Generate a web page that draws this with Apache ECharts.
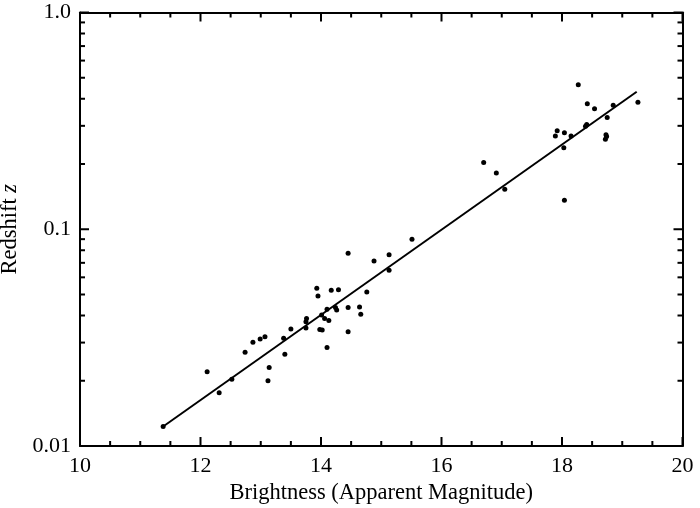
<!DOCTYPE html>
<html>
<head>
<meta charset="utf-8">
<script src="https://cdn.jsdelivr.net/npm/echarts@6/dist/echarts.min.js"></script>
<style>html,body{margin:0;padding:0;background:#fff}#c{width:700px;height:508px}</style>
</head>
<body>
<div id="c"></div>
<script>
// Apparent magnitude of each galaxy
var magnitudes = [11.38,12.11,12.31,12.52,12.74,12.87,12.99,13.07,13.12,13.14,13.38,13.40,13.50,13.76,13.75,13.75,
  13.93,13.95,13.98,14.02,14.01,14.06,14.10,14.13,14.10,14.17,14.29,14.24,14.26,14.45,14.45,14.45,
  14.64,14.66,14.76,14.88,15.13,15.13,15.51,16.70,16.91,17.05,17.89,17.92,18.04,18.03,18.04,18.15,
  18.27,18.42,18.39,18.41,18.54,18.75,18.73,18.74,18.72,18.85,19.26];
// Redshift z of each galaxy
var redshifts = [0.0123,0.0220,0.0176,0.0203,0.0271,0.0301,0.0312,0.0319,0.0200,0.0230,0.0314,0.0265,0.0347,0.0387,0.0374,0.0350,
  0.0534,0.0492,0.0345,0.0343,0.0402,0.0387,0.0427,0.0379,0.0285,0.0523,0.0526,0.0436,0.0424,0.0775,0.0436,0.0337,
  0.0438,0.0405,0.0513,0.0714,0.0763,0.0647,0.0899,0.203,0.182,0.153,0.269,0.285,0.279,0.238,0.136,0.269,
  0.464,0.379,0.299,0.304,0.360,0.328,0.273,0.268,0.260,0.373,0.385];
// Fitted line end points
var fitMag = [11.38, 19.24];
var fitZ = [0.0123, 0.431];
// Tick values
var xMajor = [10, 12, 14, 16, 18, 20];
var xMinor = [10.5,11,11.5,12.5,13,13.5,14.5,15,15.5,16.5,17,17.5,18.5,19,19.5];
var yMajor = [0.01, 0.1, 1];
var yMinor = [0.02,0.03,0.04,0.05,0.06,0.07,0.08,0.09,0.2,0.3,0.4,0.5,0.6,0.7,0.8,0.9];
var yLabels = {"0.01": "0.01", "0.1": "0.1", "1": "1.0"};

var FONT = '"Liberation Serif", "Times New Roman", serif';
var X_MIN = 10, X_MAX = 20, Y_MIN = 0.01, Y_MAX = 1;
var pts = magnitudes.map(function (m, i) { return [m, redshifts[i]]; });
var fit = fitMag.map(function (m, i) { return [m, fitZ[i]]; });

// tick data: [x, y, isMajor]
var xTickData = xMajor.map(function (v) { return [v, 0.1, 1]; })
  .concat(xMinor.map(function (v) { return [v, 0.1, 0]; }));
var yTickData = yMajor.map(function (v) { return [15, v, 1]; })
  .concat(yMinor.map(function (v) { return [15, v, 0]; }));

var MAJ = 9, MIN = 5;
function seg(x1, y1, x2, y2) {
  return { type: 'line', shape: { x1: x1, y1: y1, x2: x2, y2: y2 }, style: { stroke: '#000', lineWidth: 2 } };
}
function renderXTick(params, api) {
  var v = api.value(0), len = api.value(2) ? MAJ : MIN;
  var b = api.coord([v, Y_MIN]), t = api.coord([v, Y_MAX]);
  return { type: 'group', children: [seg(b[0], b[1], b[0], b[1] - len), seg(t[0], t[1], t[0], t[1] + len)] };
}
function renderYTick(params, api) {
  var v = api.value(1), len = api.value(2) ? MAJ : MIN;
  var l = api.coord([X_MIN, v]), r = api.coord([X_MAX, v]);
  return { type: 'group', children: [seg(l[0], l[1], l[0] + len, l[1]), seg(r[0], r[1], r[0] - len, r[1])] };
}

var chart = echarts.init(document.getElementById('c'), null, { renderer: 'canvas' });

chart.setOption({
  animation: false,
  backgroundColor: '#fff',
  grid: { left: 80, right: 17.5, top: 12.5, bottom: 62, containLabel: false, outerBoundsMode: 'none' },
  xAxis: [{
    type: 'value', min: X_MIN, max: X_MAX, interval: 2, position: 'bottom',
    axisLine: { show: true, onZero: false, lineStyle: { color: '#000', width: 2 } },
    axisTick: { show: false }, minorTick: { show: false }, splitLine: { show: false },
    axisLabel: { show: true, margin: 9, color: '#000', fontFamily: FONT, fontSize: 22 },
    name: 'Brightness (Apparent Magnitude)', nameLocation: 'middle', nameGap: 26,
    nameTextStyle: { color: '#000', fontFamily: FONT, fontSize: 22.5 }
  }, {
    type: 'value', min: X_MIN, max: X_MAX, interval: 2, position: 'top',
    axisLine: { show: true, onZero: false, lineStyle: { color: '#000', width: 2 } },
    axisTick: { show: false }, minorTick: { show: false }, splitLine: { show: false },
    axisLabel: { show: false }
  }],
  yAxis: [{
    type: 'log', logBase: 10, min: Y_MIN, max: Y_MAX, position: 'left',
    axisLine: { show: true, onZero: false, lineStyle: { color: '#000', width: 2 } },
    axisTick: { show: false }, minorTick: { show: false }, splitLine: { show: false },
    axisLabel: { show: true, margin: 9, color: '#000', fontFamily: FONT, fontSize: 22,
      formatter: function (v) { var k = String(+(+v).toPrecision(3)); return yLabels[k] || k; } },
    name: 'Redshift {i|z}', nameLocation: 'middle', nameGap: 35,
    nameTextStyle: { color: '#000', fontFamily: FONT, fontSize: 22.5,
      rich: { i: { fontStyle: 'italic', fontFamily: FONT, fontSize: 22.5, color: '#000' } } }
  }, {
    type: 'log', logBase: 10, min: Y_MIN, max: Y_MAX, position: 'right',
    axisLine: { show: true, onZero: false, lineStyle: { color: '#000', width: 2 } },
    axisTick: { show: false }, minorTick: { show: false }, splitLine: { show: false },
    axisLabel: { show: false }
  }],
  series: [
    { type: 'custom', data: xTickData, xAxisIndex: 0, yAxisIndex: 0, encode: { x: 0, y: 1 },
      renderItem: renderXTick, clip: false, silent: true, z: 5 },
    { type: 'custom', data: yTickData, xAxisIndex: 0, yAxisIndex: 0, encode: { x: 0, y: 1 },
      renderItem: renderYTick, clip: false, silent: true, z: 5 },
    { type: 'line', data: fit, xAxisIndex: 0, yAxisIndex: 0, showSymbol: false, symbol: 'none',
      lineStyle: { color: '#000', width: 2 }, z: 2 },
    { type: 'scatter', data: pts, xAxisIndex: 0, yAxisIndex: 0, symbol: 'circle', symbolSize: 5,
      itemStyle: { color: '#000', opacity: 1 }, z: 3 }
  ]
});
</script>
</body>
</html>
